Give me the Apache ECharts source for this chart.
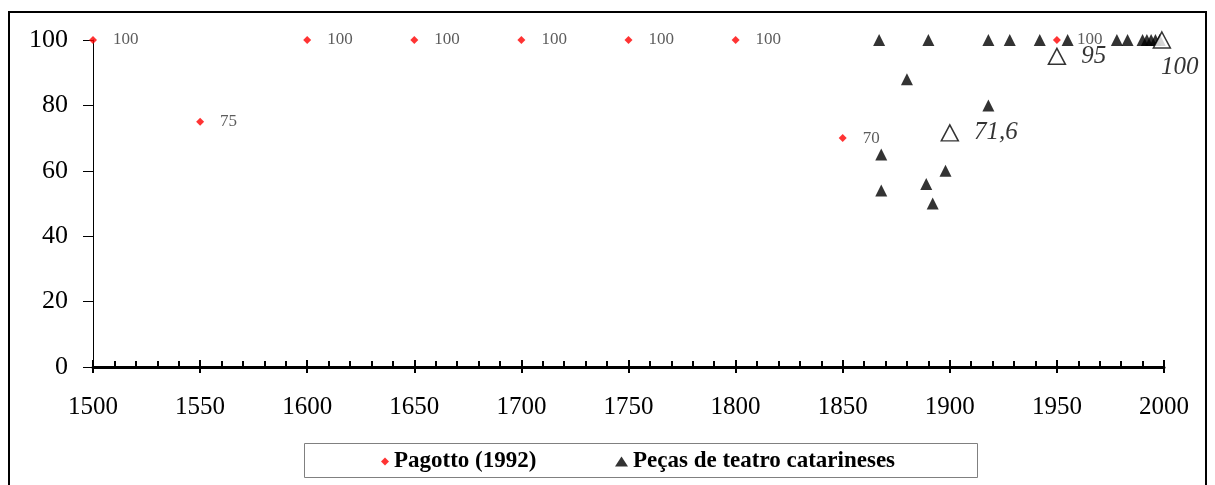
<!DOCTYPE html>
<html>
<head>
<meta charset="utf-8">
<script src="https://cdn.jsdelivr.net/npm/echarts@6/dist/echarts.min.js"></script>
<style>
  html, body { margin: 0; padding: 0; background: #fff; }
  #chart { width: 1215px; height: 485px; }
</style>
</head>
<body>
<div id="chart"></div>
<script>
'use strict';

// Pagotto (1992)
const pagottoYears = [1500, 1550, 1600, 1650, 1700, 1750, 1800, 1850, 1950];
const pagottoValues = [100, 75, 100, 100, 100, 100, 100, 70, 100];

// Peças de teatro catarineses (pontos individuais)
const pecasYears = [1867, 1868, 1868, 1880, 1889, 1890, 1892, 1898, 1918, 1918, 1928, 1942, 1955, 1978, 1983, 1990, 1992, 1994, 1996, 1998];
const pecasValues = [100, 65, 54, 88, 56, 100, 50, 60, 100, 80, 100, 100, 100, 100, 100, 100, 100, 100, 100, 100];

// triangulos vazios com rotulo
const mediaYears = [1900, 1950, 1999];
const mediaValues = [71.6, 95, 100];
const mediaLabels = ['71,6', '95', '100'];

const xTicks = [1500, 1550, 1600, 1650, 1700, 1750, 1800, 1850, 1900, 1950, 2000];
const yTicks = [0, 20, 40, 60, 80, 100];

const SERIF = '"Liberation Serif", "DejaVu Serif", serif';
const NAME_PAGOTTO = 'Pagotto (1992)';
const NAME_PECAS = 'Peças de teatro catarineses';

function pairs(xs, ys) {
  return xs.map((x, i) => [x, ys[i]]);
}

const chart = echarts.init(document.getElementById('chart'), null, { renderer: 'canvas' });

const xBase = {
  type: 'value',
  min: xTicks[0],
  max: xTicks[xTicks.length - 1],
  interval: 50,
  position: 'bottom',
  splitLine: { show: false }
};

const legendText = { fontFamily: SERIF, fontWeight: 'bold', fontSize: 23, color: '#000' };

const option = {
  animation: false,
  backgroundColor: '#fff',
  grid: { left: 93, right: 51, top: 40, bottom: 118 },
  graphic: [
    {
      type: 'rect',
      shape: { x: 9, y: 12, width: 1197, height: 500 },
      style: { fill: 'none', stroke: '#000', lineWidth: 2 },
      silent: true
    },
    {
      type: 'rect',
      shape: { x: 304.5, y: 443.5, width: 673, height: 34 },
      style: { fill: 'none', stroke: '#808080', lineWidth: 1 },
      silent: true
    }
  ],
  legend: [
    {
      data: [NAME_PAGOTTO],
      left: 381,
      top: 450,
      padding: 0,
      itemWidth: 8,
      itemHeight: 8,
      itemGap: 0,
      textStyle: legendText
    },
    {
      data: [NAME_PECAS],
      left: 615,
      top: 450,
      padding: 0,
      itemWidth: 13,
      itemHeight: 10,
      itemGap: 0,
      textStyle: legendText
    }
  ],
  xAxis: [
    Object.assign({}, xBase, {
      axisLine: { show: true, onZero: false, lineStyle: { color: '#000', width: 3 } },
      axisTick: { show: true, inside: false, length: 6, lineStyle: { color: '#000', width: 2 } },
      axisLabel: {
        show: true,
        margin: 28,
        fontFamily: SERIF,
        fontSize: 25,
        color: '#000',
        showMinLabel: true,
        showMaxLabel: true,
        formatter: (v) => String(v)
      }
    }),
    Object.assign({}, xBase, {
      axisLine: { show: false, onZero: false },
      axisTick: { show: true, inside: true, length: 7, lineStyle: { color: '#000', width: 2 } },
      minorTick: { show: true, splitNumber: 5, length: 6, lineStyle: { color: '#000', width: 2 } },
      axisLabel: { show: false }
    })
  ],
  yAxis: {
    type: 'value',
    min: yTicks[0],
    max: yTicks[yTicks.length - 1],
    interval: 20,
    splitLine: { show: false },
    axisLine: { show: true, lineStyle: { color: '#000', width: 1 } },
    axisTick: { show: true, inside: false, length: 10, lineStyle: { color: '#000', width: 1 } },
    axisLabel: { margin: 25, fontFamily: SERIF, fontSize: 26, color: '#000' }
  },
  series: [
    {
      name: NAME_PAGOTTO,
      type: 'scatter',
      xAxisIndex: 0,
      symbol: 'diamond',
      symbolSize: 8,
      itemStyle: { color: '#ff0000' },
      label: {
        show: true,
        position: 'right',
        distance: 16,
        fontFamily: SERIF,
        fontSize: 17,
        color: '#333'
      },
      z: 3,
      data: pairs(pagottoYears, pagottoValues)
    },
    {
      name: NAME_PECAS,
      type: 'scatter',
      xAxisIndex: 0,
      symbol: 'triangle',
      symbolSize: 12,
      itemStyle: { color: '#000' },
      z: 4,
      data: pairs(pecasYears, pecasValues)
    },
    {
      name: 'media',
      type: 'scatter',
      xAxisIndex: 0,
      symbol: 'triangle',
      symbolSize: [17, 16],
      itemStyle: { color: '#fff', borderColor: '#000', borderWidth: 1.5 },
      label: {
        show: true,
        position: 'right',
        distance: 15,
        fontFamily: SERIF,
        fontStyle: 'italic',
        fontSize: 25,
        color: '#000',
        formatter: (p) => mediaLabels[p.dataIndex]
      },
      z: 5,
      data: mediaYears.map((year, i) => {
        const item = { value: [year, mediaValues[i]] };
        if (i === mediaYears.length - 1) {
          item.label = { position: 'bottom', distance: 6, offset: [18, 0] };
        }
        return item;
      })
    }
  ]
};

chart.setOption(option);
</script>
</body>
</html>
